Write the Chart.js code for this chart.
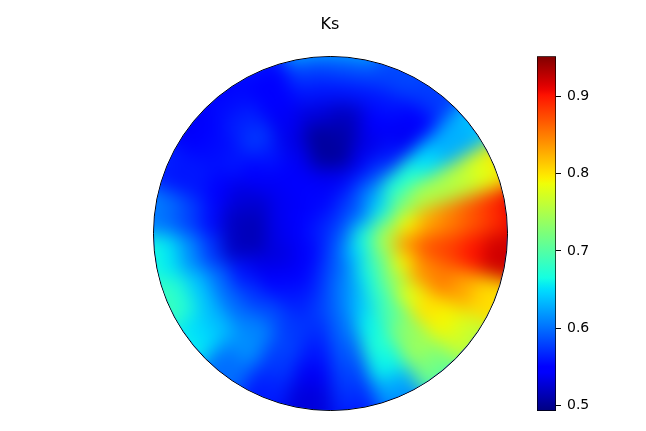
<!DOCTYPE html>
<html>
<head>
<meta charset="utf-8">
<title>Ks</title>
<script src="https://cdn.jsdelivr.net/npm/chart.js@4/dist/chart.umd.min.js"></script>
<style>
    html, body { margin: 0; padding: 0; background: #fff; overflow: hidden; width: 646px; height: 431px; }
    #disc { position: absolute; left: 153px; top: 56px; width: 355px; height: 355px; box-sizing: border-box;
            border: 1px solid #000; border-radius: 50%; overflow: hidden; background: #0040ff; }
    #heatChart { position: absolute; left: -22px; top: -22px; filter: blur(9px); }
    #barChart { position: absolute; left: 14px; top: 0; }
</style>
</head>
<body>
<div id="disc"><canvas id="heatChart" width="398" height="398"></canvas></div>
<canvas id="barChart" width="632" height="431"></canvas>
<script>
/* ── DATA ── */

// Ks per sector: 24 sectors of 15 degrees, clockwise from east. Rings go from the rim to the centre.
const ringRim = [.92,.80,.75,.70,.61,.56,.53,.56,.60,.66,.69,.67,.61,.565,.54,.55,.56,.63,.63,.585,.58,.64,.80,.91];
const ring94 = [.92,.805,.77,.72,.625,.57,.53,.565,.60,.65,.675,.655,.60,.56,.545,.555,.55,.58,.585,.58,.575,.63,.78,.89];
const ring81 = [.90,.83,.79,.74,.66,.58,.54,.575,.615,.635,.64,.615,.58,.56,.555,.565,.55,.56,.56,.56,.55,.63,.76,.87];
const ring69 = [.88,.85,.80,.73,.67,.59,.56,.58,.61,.60,.60,.575,.555,.55,.56,.575,.54,.53,.52,.545,.54,.65,.75,.85];
const ring56 = [.87,.84,.78,.70,.66,.60,.57,.575,.585,.575,.56,.52,.52,.53,.55,.56,.535,.505,.51,.535,.56,.67,.75,.83];
const ring44 = [.84,.79,.73,.68,.64,.605,.58,.565,.56,.55,.535,.515,.515,.525,.54,.545,.54,.505,.505,.54,.58,.67,.72,.79];
const ring31 = [.76,.72,.69,.66,.62,.605,.58,.56,.55,.54,.53,.535,.535,.54,.54,.545,.55,.54,.54,.56,.60,.63,.66,.73];
const ring19 = [.68,.66,.65,.63,.60,.595,.58,.565,.55,.545,.54,.55,.55,.55,.55,.55,.555,.55,.56,.575,.585,.59,.62,.66];
const ring06 = [.60,.60,.60,.60,.59,.585,.58,.575,.565,.56,.56,.565,.565,.565,.565,.565,.565,.565,.57,.575,.58,.585,.59,.59];
const rings = [ringRim, ring94, ring81, ring69, ring56, ring44, ring31, ring19, ring06];

const colorbarRange = [0.493, 0.952];
const colorbarTicks = [0.5, 0.6, 0.7, 0.8, 0.9];

/* ── JET COLORMAP ── */

const jetRed = [[0, 0], [0.35, 0], [0.66, 1], [0.89, 1], [1, 0.5]];
const jetGreen = [[0, 0], [0.125, 0], [0.375, 1], [0.64, 1], [0.91, 0], [1, 0]];
const jetBlue = [[0, 0.5], [0.11, 1], [0.34, 1], [0.65, 0], [1, 0]];

function channel(stops, f) {
    for (let i = 1; i < stops.length; i++) {
        if (f <= stops[i][0]) {
            const t = (f - stops[i - 1][0]) / (stops[i][0] - stops[i - 1][0]);
            return Math.round(255 * (stops[i - 1][1] + t * (stops[i][1] - stops[i - 1][1])));
        }
    }
    return Math.round(255 * stops[stops.length - 1][1]);
}

function jet(f) {
    const x = Math.min(1, Math.max(0, f));
    return `rgb(${channel(jetRed, x)},${channel(jetGreen, x)},${channel(jetBlue, x)})`;
}

function colorOf(value) {
    return jet((value - colorbarRange[0]) / (colorbarRange[1] - colorbarRange[0]));
}

/* ── DISC ── */

new Chart(document.getElementById("heatChart"), {
    type: "doughnut",
    data: {
        labels: ringRim.map((_, i) => `${i * 15}`),
        datasets: rings.map((ring) => ({
            data: ring.map(() => 1),
            ks: ring,
            backgroundColor: ring.map(colorOf),
            borderColor: ring.map(colorOf),
            borderWidth: 1,
        })),
    },
    options: {
        responsive: false,
        animation: false,
        events: [],
        rotation: 90,
        cutout: 0,
        layout: { padding: 0 },
        plugins: { legend: { display: false }, tooltip: { enabled: false } },
    },
});

/* ── COLORBAR + TITLE ── */

function barGradient(context) {
    const { ctx, chartArea } = context.chart;
    if (!chartArea) return "#000";
    const grad = ctx.createLinearGradient(0, chartArea.bottom, 0, chartArea.top);
    for (let i = 0; i <= 64; i++) grad.addColorStop(i / 64, jet(i / 64));
    return grad;
}

new Chart(document.getElementById("barChart"), {
    type: "bar",
    data: {
        labels: ["Ks"],
        datasets: [
            {
                data: [colorbarRange],
                yAxisID: "y",
                backgroundColor: barGradient,
                borderColor: "#000",
                borderWidth: 1,
                borderSkipped: false,
                barPercentage: 1,
                categoryPercentage: 1,
            },
        ],
    },
    options: {
        responsive: false,
        animation: false,
        events: [],
        layout: { padding: { bottom: 20 } },
        scales: {
            x: { display: false },
            y: {
                position: "right",
                min: colorbarRange[0],
                max: colorbarRange[1],
                afterBuildTicks: (scale) => {
                    scale.ticks = colorbarTicks.map((value) => ({ value }));
                },
                afterFit: (scale) => {
                    scale.width = 90;
                },
                grid: { drawOnChartArea: false, color: "#000", tickLength: 5, tickWidth: 1 },
                border: { display: false },
                ticks: {
                    color: "#000",
                    padding: 6,
                    font: { family: "DejaVu Sans", size: 14 },
                    callback: (value) => value.toFixed(1),
                },
            },
            // empty axis that only pushes the colorbar to the right, the title stays over the disc
            gap: {
                type: "linear",
                position: "left",
                grid: { display: false },
                border: { display: false },
                ticks: { display: false },
                afterFit: (scale) => {
                    scale.width = 523;
                },
            },
        },
        plugins: {
            legend: { display: false },
            tooltip: { enabled: false },
            title: {
                display: true,
                text: "Ks",
                color: "#000",
                font: { family: "DejaVu Sans", size: 16, weight: "normal" },
                padding: { top: 15, bottom: 22 },
            },
        },
    },
});
</script>
</body>
</html>
